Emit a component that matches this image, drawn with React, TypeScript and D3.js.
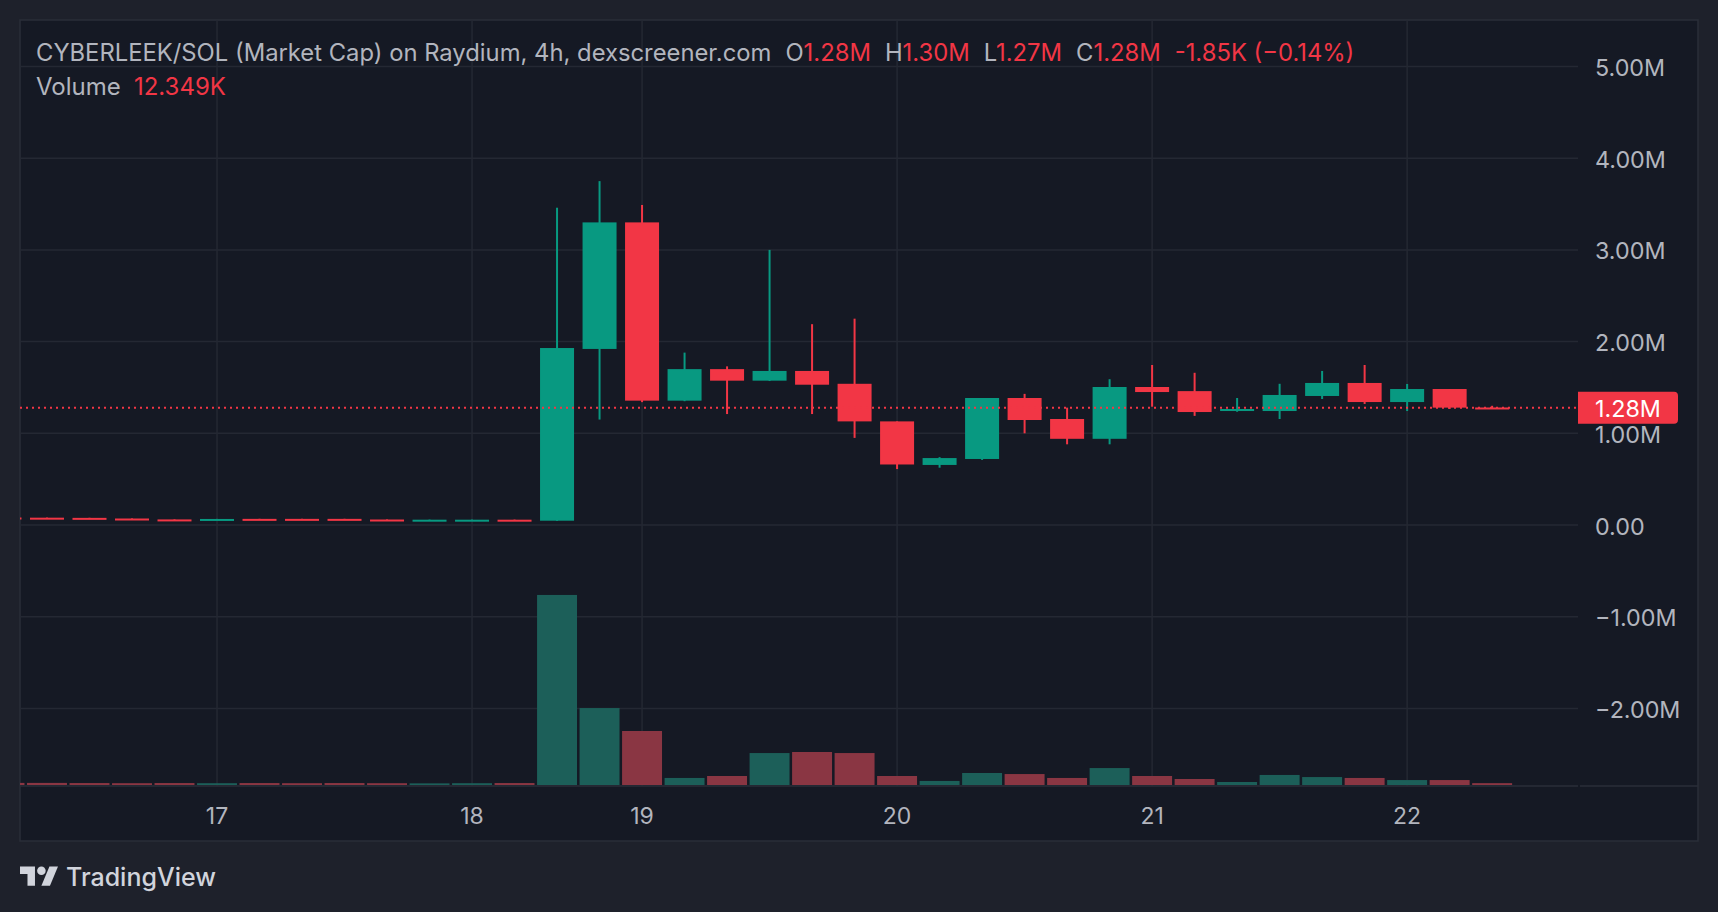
import * as d3 from 'd3';

const W = 1718;
const H = 912;

// 4h candles, market cap in millions
const times = [
  '16 04:00', '16 08:00', '16 12:00', '16 16:00', '16 20:00',
  '17 00:00', '17 04:00', '17 08:00', '17 12:00', '17 16:00', '17 20:00',
  '18 00:00', '18 12:00', '18 16:00', '18 20:00',
  '19 00:00', '19 04:00', '19 08:00', '19 12:00', '19 16:00', '19 20:00',
  '20 00:00', '20 04:00', '20 08:00', '20 12:00', '20 16:00', '20 20:00',
  '21 00:00', '21 04:00', '21 08:00', '21 12:00', '21 16:00', '21 20:00',
  '22 00:00', '22 04:00', '22 08:00',
];
const opens = [
  0.082, 0.080, 0.078, 0.071, 0.061, 0.061, 0.067, 0.067, 0.067, 0.060, 0.053, 0.053, 0.058,
  0.047, 1.92, 3.30, 1.356, 1.70, 1.574, 1.68, 1.54, 1.13, 0.655, 0.72, 1.385, 1.156, 0.94,
  1.505, 1.46, 1.243, 1.243, 1.407, 1.549, 1.341, 1.483, 1.2818,
];
const highs = [
  0.083, 0.081, 0.079, 0.072, 0.062, 0.067, 0.068, 0.068, 0.068, 0.061, 0.059, 0.059, 0.059,
  3.46, 3.75, 3.49, 1.88, 1.73, 3.00, 2.19, 2.25, 1.13, 0.74, 1.385, 1.43, 1.28, 1.59,
  1.745, 1.66, 1.385, 1.54, 1.68, 1.745, 1.538, 1.483, 1.30,
];
const lows = [
  0.078, 0.075, 0.074, 0.065, 0.055, 0.060, 0.062, 0.062, 0.062, 0.054, 0.052, 0.052, 0.052,
  0.045, 1.15, 1.34, 1.35, 1.21, 1.57, 1.21, 0.95, 0.61, 0.625, 0.71, 1.00, 0.88, 0.88,
  1.29, 1.19, 1.235, 1.156, 1.374, 1.32, 1.243, 1.265, 1.27,
];
const closes = [
  0.079, 0.076, 0.075, 0.066, 0.056, 0.066, 0.063, 0.063, 0.063, 0.055, 0.058, 0.058, 0.053,
  1.93, 3.30, 1.356, 1.70, 1.574, 1.68, 1.53, 1.13, 0.66, 0.73, 1.385, 1.145, 0.94, 1.505,
  1.45, 1.232, 1.265, 1.418, 1.549, 1.341, 1.483, 1.28, 1.28,
];
// volume in thousands
const volumesK = [
  14, 14, 13, 12, 13, 12, 13, 12, 13, 12, 11, 12, 13,
  1267, 513, 360, 47, 60, 213, 220, 213, 60, 27, 80, 73, 47, 113,
  60, 40, 20, 67, 53, 47, 33, 33, 12.349,
];
const priceTicks = [-2, -1, 0, 1, 2, 3, 4, 5];
const dayTicks = ['17', '18', '19', '20', '21', '22'];

const title = 'CYBERLEEK/SOL (Market Cap) on Raydium, 4h, dexscreener.com';
const legendLabels = ['O', 'H', 'L', 'C'];
const legendValues = ['1.28M', '1.30M', '1.27M', '1.28M'];
const changeText = '-1.85K (\u22120.14%)';
const volumeText = '12.349K';
const lastPriceText = '1.28M';

const UP = '#089981';
const DOWN = '#f23645';
const UP_VOL = '#1c5f59';
const DOWN_VOL = '#8a3643';
const TEXT = '#b2b5be';
const FONT = 'Inter, "Noto Sans", sans-serif';

export default function App() {
  const left = 20, top = 20, plotRight = 1578, right = 1698, axisTop = 786, bottom = 841;

  const x = d3.scaleLinear().domain([0.365, 37.02]).range([left, plotRight]);
  const y = d3.scaleLinear().domain([-2.846, 5.507]).range([axisTop, top]);
  const yVol = d3.scaleLinear().domain([0, 1300]).range([785, 590]);
  const step = x(1) - x(0);
  const bodyW = step * 0.8;
  const volW = step * 0.94;

  const fmt = (v: number) =>
    v === 0 ? '0.00' : (v < 0 ? '\u2212' : '') + d3.format('.2f')(Math.abs(v)) + 'M';

  const dayIdx = dayTicks.map((d) => times.indexOf(`${d} 00:00`));
  const last = closes[closes.length - 1];

  return (
    <div style={{ position: 'fixed', left: 0, top: 0 }}>
      <svg width={W} height={H} style={{ display: 'block', fontFamily: FONT }}>
        <defs>
          <clipPath id="plot">
            <rect x={left} y={top} width={plotRight - left} height={axisTop - top} />
          </clipPath>
        </defs>
        <rect width={W} height={H} fill="#1e212b" />
        <rect x={left} y={top} width={right - left} height={bottom - top} fill="#151924" stroke="#2a2e39" strokeWidth={1.5} />

        {/* grid */}
        <g stroke="#242833" strokeWidth={1.5}>
          {priceTicks.map((t) => (
            <line key={t} x1={left} x2={plotRight} y1={y(t)} y2={y(t)} />
          ))}
          {dayIdx.map((i, k) => (
            <line key={k} x1={x(i)} x2={x(i)} y1={top} y2={axisTop} />
          ))}
        </g>

        <g clipPath="url(#plot)">
          {/* volume */}
          {volumesK.map((v, i) => (
            <rect
              key={'v' + i}
              x={x(i) - volW / 2}
              y={yVol(v)}
              width={volW}
              height={yVol(0) - yVol(v)}
              fill={closes[i] >= opens[i] ? UP_VOL : DOWN_VOL}
            />
          ))}
          {/* candles */}
          {opens.map((o, i) => {
            const c = closes[i];
            const col = c >= o ? UP : DOWN;
            const yt = y(Math.max(o, c));
            const yb = y(Math.min(o, c));
            const h = Math.max(2, yb - yt);
            return (
              <g key={'c' + i} fill={col}>
                <rect x={x(i) - 1} y={y(highs[i])} width={2} height={y(lows[i]) - y(highs[i])} />
                <rect x={x(i) - bodyW / 2} y={yt} width={bodyW} height={h} />
              </g>
            );
          })}
          {/* last price line */}
          <line x1={left} x2={plotRight} y1={y(last)} y2={y(last)} stroke={DOWN} strokeWidth={2} strokeDasharray="2 4" />
        </g>

        {/* time axis */}
        <line x1={left} x2={plotRight} y1={axisTop} y2={axisTop} stroke="#2a2e39" strokeWidth={1.5} />
        <line x1={plotRight + 2} x2={right} y1={axisTop} y2={axisTop} stroke="#2a2e39" strokeWidth={1.5} />
        {dayTicks.map((d, k) => (
          <text key={d} x={x(dayIdx[k])} y={824} textAnchor="middle" fontSize={23} fill={TEXT}>
            {d}
          </text>
        ))}

        {/* price axis */}
        {priceTicks.map((t) => (
          <text key={'p' + t} x={1595} y={y(t) + 9.5} fontSize={23.3} fill={TEXT}>
            {fmt(t)}
          </text>
        ))}
        <path
          d={`M${plotRight},${y(last) - 16}H${1674}a4,4 0 0 1 4,4V${y(last) + 12}a4,4 0 0 1 -4,4H${plotRight}Z`}
          fill={DOWN}
        />
        <text x={1595} y={y(last) + 9} fontSize={23.3} fill="#ffffff">
          {lastPriceText}
        </text>

        {/* legend */}
        <text x={36} y={61} fontSize={23.8} fill={TEXT}>
          <tspan>{title}</tspan>
          {legendLabels.map((l, k) => (
            <tspan key={l}>
              <tspan dx={14} fill={TEXT}>{l}</tspan>
              <tspan fill={DOWN}>{legendValues[k]}</tspan>
            </tspan>
          ))}
          <tspan dx={14} fill={DOWN}>{changeText}</tspan>
        </text>
        <text x={36} y={94.5} fontSize={24} fill={TEXT}>
          <tspan>Volume</tspan>
          <tspan dx={14} fill={DOWN}>{volumeText}</tspan>
        </text>

        {/* TradingView logo */}
        <g transform="translate(20,862.2) scale(1.07)" fill="#d1d4dc">
          <path d="M14 22H7V11H0V4h14v18z" />
          <circle cx={20} cy={8} r={4} />
          <path d="M28 22h-8l7.5-18h8L28 22z" />
        </g>
        <text x={66} y={886} fontSize={25} fontWeight={500} fill="#d1d4dc">
          TradingView
        </text>
      </svg>
    </div>
  );
}
